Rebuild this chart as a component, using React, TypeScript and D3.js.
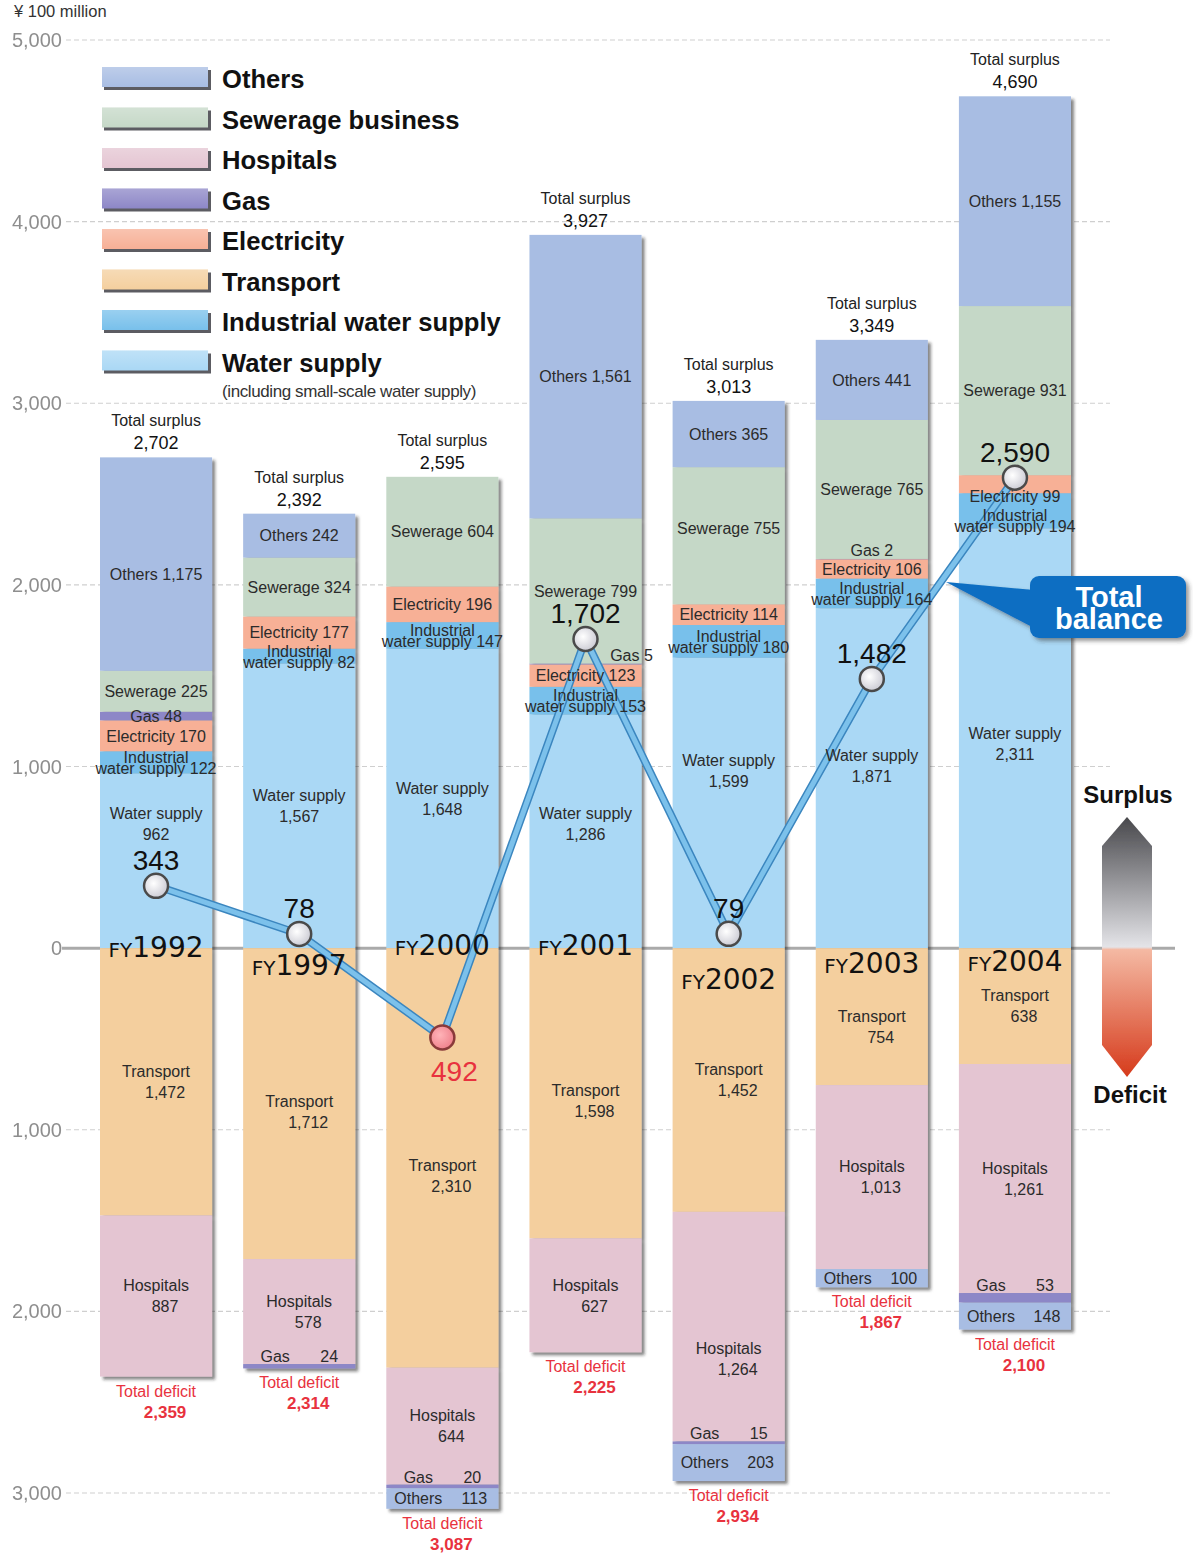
import React from "react";
import * as d3 from "d3";

// ---------- DATA ----------
const years = ["1992", "1997", "2000", "2001", "2002", "2003", "2004"];

// surplus side (stacked upward, bottom to top)
const waterSupply = [962, 1567, 1648, 1286, 1599, 1871, 2311];
const industrialWater = [122, 82, 147, 153, 180, 164, 194];
const electricity = [170, 177, 196, 123, 114, 106, 99];
const gasSurplus = [48, 0, 0, 5, 0, 2, 0];
const sewerage = [225, 324, 604, 799, 755, 765, 931];
const othersSurplus = [1175, 242, 0, 1561, 365, 441, 1155];

// deficit side (stacked downward, top to bottom)
const transportDeficit = [1472, 1712, 2310, 1598, 1452, 754, 638];
const hospitalsDeficit = [887, 578, 644, 627, 1264, 1013, 1261];
const gasDeficit = [0, 24, 20, 0, 15, 0, 53];
const othersDeficit = [0, 0, 113, 0, 203, 100, 148];

const totalSurplus = [2702, 2392, 2595, 3927, 3013, 3349, 4690];
const totalDeficit = [2359, 2314, 3087, 2225, 2934, 1867, 2100];
const balance = [343, 78, -492, 1702, 79, 1482, 2590];

const yTicks = [5000, 4000, 3000, 2000, 1000, 0, -1000, -2000, -3000];

const legendLabels = [
  "Others",
  "Sewerage business",
  "Hospitals",
  "Gas",
  "Electricity",
  "Transport",
  "Industrial water supply",
  "Water supply",
];
const legendKeys = ["others", "sewerage", "hospitals", "gas", "electricity", "transport", "industrial", "water"];

// ---------- STYLE / LAYOUT ----------
const colors: Record<string, string> = {
  others: "#a8bde3",
  sewerage: "#c5d8c7",
  hospitals: "#e4c5d2",
  gas: "#8d87c7",
  electricity: "#f7b096",
  transport: "#f4cf9e",
  industrial: "#78c0eb",
  water: "#aad8f5",
};
const keyColor: Record<string, string> = {
  water: colors.water,
  industrial: colors.industrial,
  electricity: colors.electricity,
  gas: colors.gas,
  sewerage: colors.sewerage,
  others: colors.others,
  transportD: colors.transport,
  hospitalsD: colors.hospitals,
  gasD: colors.gas,
  othersD: colors.others,
};

const FONT = "'Liberation Sans', Arial, Helvetica, sans-serif";
const W = 1193;
const H = 1555;

const y = d3.scaleLinear().domain([-3000, 5000]).range([1493, 40]);
const x = d3.scaleBand<string>().domain(years).range([100, 1071]).paddingInner(0.217).paddingOuter(0);
const bw = x.bandwidth();
const cxOf = (yr: string) => (x(yr) as number) + bw / 2;
const fmt = d3.format(",");

const posKeys = ["water", "industrial", "electricity", "gas", "sewerage", "others"];
const negKeys = ["transportD", "hospitalsD", "gasD", "othersD"];

const posRows = years.map((yr, i) => ({
  year: yr,
  water: waterSupply[i],
  industrial: industrialWater[i],
  electricity: electricity[i],
  gas: gasSurplus[i],
  sewerage: sewerage[i],
  others: othersSurplus[i],
}));
const negRows = years.map((yr, i) => ({
  year: yr,
  transportD: -transportDeficit[i],
  hospitalsD: -hospitalsDeficit[i],
  gasD: -gasDeficit[i],
  othersD: -othersDeficit[i],
}));

const posStack = d3.stack<any>().keys(posKeys)(posRows);
const negStack = d3.stack<any>().keys(negKeys).offset(d3.stackOffsetDiverging)(negRows);

type Seg = { year: string; key: string; v: number; d0: number; d1: number };
const segments: Seg[] = [];
[...posStack, ...negStack].forEach((s) => {
  s.forEach((d: any) => {
    const v = Math.abs(d.data[s.key]);
    if (v > 0) {
      const lo = Math.min(d[0], d[1]);
      const hi = Math.max(d[0], d[1]);
      segments.push({ year: d.data.year, key: s.key, v, d0: lo, d1: hi });
    }
  });
});

// label nudges (layout only)
const labelShift: Record<string, [number, number]> = {
  "1992:others": [0, 10],
  "1992:water": [0, -37],
  "2001:water": [0, -8],
  "2002:water": [0, -32],
  "2003:water": [0, -12],
  "2004:water": [0, 6],
  "1997:transportD": [0, 8],
  "2000:transportD": [0, 18],
  "2001:transportD": [0, 8],
  "2003:transportD": [0, 10],
  "2002:hospitalsD": [0, 32],
  "2001:gas": [46, -9],
  "2003:gas": [0, -9],
  "2002:sewerage": [0, -7],
  "2004:electricity": [0, 12],
  "2004:industrial": [0, 10],
};
const fyDy = [9, 27, 7, 7, 41, 25, 23];

const labelFill = "#2b2b2b";

function SegLabel({ s }: { s: Seg }) {
  const sh = labelShift[`${s.year}:${s.key}`] || [0, 0];
  const cx = cxOf(s.year) + sh[0];
  const top = y(s.d1);
  const bot = y(s.d0);
  const cy = (top + bot) / 2 + sh[1];
  const common = { fontFamily: FONT, fontSize: 16, fill: labelFill, textAnchor: "middle" as const };
  const base = (c: number) => c + 5.7;
  switch (s.key) {
    case "others":
      return <text {...common} x={cx} y={base(cy)}>{`Others ${fmt(s.v)}`}</text>;
    case "sewerage":
      return <text {...common} x={cx} y={base(cy)}>{`Sewerage ${fmt(s.v)}`}</text>;
    case "electricity":
      return <text {...common} x={cx} y={base(cy)}>{`Electricity ${fmt(s.v)}`}</text>;
    case "gas":
      return <text {...common} x={cx} y={base(cy)}>{`Gas ${fmt(s.v)}`}</text>;
    case "industrial":
      return (
        <text {...common} x={cx} y={base(cy - 5)}>
          <tspan x={cx}>Industrial</tspan>
          <tspan x={cx} dy={11}>{`water supply ${fmt(s.v)}`}</tspan>
        </text>
      );
    case "water":
      return (
        <g>
          <text {...common} x={cx} y={base(cy - 10.5)}>Water supply</text>
          <text {...common} x={cx} y={base(cy + 10.5)}>{fmt(s.v)}</text>
        </g>
      );
    case "transportD":
    case "hospitalsD":
      return (
        <g>
          <text {...common} x={cx} y={base(cy - 10.5)}>{s.key === "transportD" ? "Transport" : "Hospitals"}</text>
          <text {...common} x={cx + 9} y={base(cy + 10.5)}>{fmt(s.v)}</text>
        </g>
      );
    case "gasD": {
      const by = top - 2;
      return (
        <g>
          <text {...common} x={cx - 24} y={by}>Gas</text>
          <text {...common} x={cx + 30} y={by}>{fmt(s.v)}</text>
        </g>
      );
    }
    case "othersD":
      return (
        <g>
          <text {...common} x={cx - 24} y={base(cy)}>Others</text>
          <text {...common} x={cx + 32} y={base(cy)}>{fmt(s.v)}</text>
        </g>
      );
  }
  return null;
}

export default function App() {
  const line = d3
    .line<number>()
    .x((_, i) => cxOf(years[i]))
    .y((d) => y(d));
  const balPath = line(balance) || "";
  const zeroY = y(0);

  return (
    <svg
      width={W}
      height={H}
      viewBox={`0 0 ${W} ${H}`}
      style={{ position: "absolute", left: 0, top: 0, background: "#fff" }}
    >
      <defs>
        <filter id="barShadow" x="-10%" y="-5%" width="125%" height="115%">
          <feDropShadow dx="3" dy="3" stdDeviation="1.6" floodColor="#222" floodOpacity="0.55" />
        </filter>
        <filter id="boxShadow" x="-10%" y="-20%" width="130%" height="150%">
          <feDropShadow dx="3" dy="3" stdDeviation="2" floodColor="#333" floodOpacity="0.5" />
        </filter>
        <filter id="soft" x="-20%" y="-20%" width="140%" height="140%">
          <feGaussianBlur stdDeviation="0.7" />
        </filter>
        <radialGradient id="ptFill" cx="40%" cy="40%" r="65%">
          <stop offset="0%" stopColor="#ffffff" />
          <stop offset="100%" stopColor="#c9c9d2" />
        </radialGradient>
        <radialGradient id="ptFillRed" cx="40%" cy="40%" r="65%">
          <stop offset="0%" stopColor="#ffb3b8" />
          <stop offset="100%" stopColor="#ee7f8a" />
        </radialGradient>
        <linearGradient id="arrowGrad" gradientUnits="userSpaceOnUse" x1="0" y1="817" x2="0" y2="1077">
          <stop offset="0%" stopColor="#48484c" />
          <stop offset="50%" stopColor="#e4e4e8" />
          <stop offset="51%" stopColor="#f4b9a3" />
          <stop offset="100%" stopColor="#d63b1c" />
        </linearGradient>
        <linearGradient id="swatchGloss" x1="0" y1="0" x2="0" y2="1">
          <stop offset="0%" stopColor="#fff" stopOpacity="0.25" />
          <stop offset="100%" stopColor="#fff" stopOpacity="0" />
        </linearGradient>
      </defs>

      {/* unit */}
      <text x={14} y={17} fontFamily={FONT} fontSize={16.5} fill="#333">
        ¥ 100 million
      </text>

      {/* gridlines */}
      {yTicks
        .filter((t) => t !== 0)
        .map((t) => (
          <line
            key={t}
            x1={66}
            x2={1110}
            y1={y(t)}
            y2={y(t)}
            stroke="#cfcfcf"
            strokeWidth={1.2}
            strokeDasharray="5,3"
          />
        ))}
      <line x1={62} x2={1175} y1={zeroY} y2={zeroY} stroke="#aaaaaa" strokeWidth={3} />

      {/* y tick labels */}
      {yTicks.map((t) => (
        <text
          key={t}
          x={62}
          y={y(t) + 7}
          textAnchor="end"
          fontFamily={FONT}
          fontSize={20}
          fill="#8e8e8e"
          filter="url(#soft)"
        >
          {fmt(Math.abs(t))}
        </text>
      ))}

      {/* legend */}
      {legendLabels.map((lab, i) => {
        const cy = 79 + i * 40.5;
        const c = colors[legendKeys[i]];
        return (
          <g key={lab}>
            <rect x={104} y={cy - 9} width={107} height={20} fill="#3f3f46" opacity={0.85} />
            <rect x={102} y={cy - 12} width={106} height={20} fill={c} />
            <rect x={102} y={cy - 12} width={106} height={20} fill="url(#swatchGloss)" />
            <text x={222} y={cy + 9} fontFamily={FONT} fontSize={25.6} fontWeight="bold" fill="#111">
              {lab}
            </text>
          </g>
        );
      })}
      <text x={222} y={397} fontFamily={FONT} fontSize={17} fill="#333" letterSpacing={-0.4}>
        (including small-scale water supply)
      </text>

      {/* bars */}
      {years.map((yr) => (
        <g key={yr} filter="url(#barShadow)">
          {segments
            .filter((s) => s.year === yr)
            .map((s) => (
              <rect
                key={s.key}
                x={x(yr)}
                y={y(s.d1)}
                width={bw}
                height={Math.max(0, y(s.d0) - y(s.d1))}
                fill={keyColor[s.key]}
              />
            ))}
        </g>
      ))}

      {/* balance line */}
      <path d={balPath} fill="none" stroke="#3b86bf" strokeWidth={8} strokeLinejoin="round" strokeLinecap="round" />
      <path d={balPath} fill="none" stroke="#7cc1eb" strokeWidth={5} strokeLinejoin="round" strokeLinecap="round" />

      {/* segment labels */}
      {segments.map((s) => (
        <SegLabel key={`${s.year}-${s.key}`} s={s} />
      ))}

      {/* totals */}
      {years.map((yr, i) => {
        const cx = cxOf(yr);
        const top = y(totalSurplus[i]);
        const bot = y(-totalDeficit[i]);
        return (
          <g key={yr}>
            <text x={cx} y={top - 31} textAnchor="middle" fontFamily={FONT} fontSize={16} fill="#222">
              Total surplus
            </text>
            <text x={cx} y={top - 8} textAnchor="middle" fontFamily={FONT} fontSize={18} fill="#111">
              {fmt(totalSurplus[i])}
            </text>
            <text x={cx} y={bot + 20} textAnchor="middle" fontFamily={FONT} fontSize={16} fill="#e8323e">
              Total deficit
            </text>
            <text
              x={cx + 9}
              y={bot + 41}
              textAnchor="middle"
              fontFamily={FONT}
              fontSize={17}
              fontWeight="bold"
              fill="#e8323e"
            >
              {fmt(totalDeficit[i])}
            </text>
          </g>
        );
      })}

      {/* FY labels */}
      {years.map((yr, i) => (
        <text
          key={yr}
          x={cxOf(yr)}
          y={zeroY + fyDy[i]}
          textAnchor="middle"
          fontFamily="'DejaVu Sans', Verdana, sans-serif"
          fill="#111"
        >
          <tspan fontSize={20}>FY</tspan>
          <tspan fontSize={28}>{yr}</tspan>
        </text>
      ))}

      {/* balance points & labels */}
      {balance.map((b, i) => {
        const cx = cxOf(years[i]);
        const cy = y(b);
        const neg = b < 0;
        return (
          <g key={i}>
            <circle
              cx={cx}
              cy={cy}
              r={12}
              fill={neg ? "url(#ptFillRed)" : "url(#ptFill)"}
              stroke={neg ? "#8a3a3a" : "#4a4a4a"}
              strokeWidth={2.5}
            />
            <text
              x={neg ? cx + 12 : cx}
              y={neg ? cy + 44 : cy - 16}
              textAnchor="middle"
              fontFamily={FONT}
              fontSize={28}
              fill={neg ? "#e8323e" : "#111"}
            >
              {fmt(Math.abs(b))}
            </text>
          </g>
        );
      })}

      {/* Total balance callout */}
      <g filter="url(#boxShadow)">
        <path d="M946,582 L1034,590 L1034,628 Z" fill="#0b6ec2" />
        <rect x={1030} y={576} width={156} height={62} rx={9} fill="#0b6ec2" />
      </g>
      <text x={1109} y={607} textAnchor="middle" fontFamily={FONT} fontSize={29} fontWeight="bold" fill="#fff">
        Total
      </text>
      <text x={1109} y={629} textAnchor="middle" fontFamily={FONT} fontSize={29} fontWeight="bold" fill="#fff">
        balance
      </text>

      {/* surplus / deficit arrow */}
      <text x={1128} y={803} textAnchor="middle" fontFamily={FONT} fontSize={24} fontWeight="bold" fill="#111">
        Surplus
      </text>
      <polygon
        points="1127,817 1152,846 1152,1045 1127,1077 1102,1045 1102,846"
        fill="url(#arrowGrad)"
        filter="url(#soft)"
      />
      <text x={1130} y={1103} textAnchor="middle" fontFamily={FONT} fontSize={24} fontWeight="bold" fill="#111">
        Deficit
      </text>
    </svg>
  );
}
